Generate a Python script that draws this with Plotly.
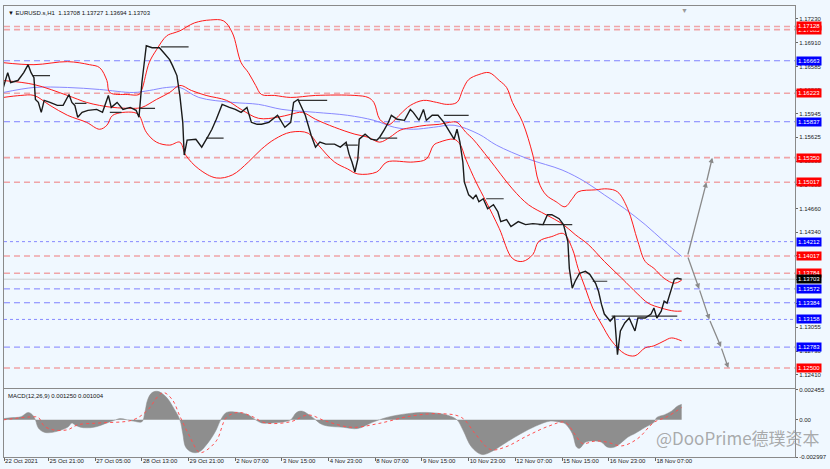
import plotly.graph_objects as go
from plotly.subplots import make_subplots

# ---------------- data (bar index, price) ----------------
close_idx = [1,4,6,11,15,18,20,22,23,25,27,29,33,38,42,46,48,50,52,55,59,65,69,73,75,79,83,88,92,94,96,99,103,108,111,115,117,120,122,124,125,127,133,137,141,144,147,151,156,160,164,168,171,175,178,183,189,194,198,200,203,205,208,212,215,218,222,228,232,236,238,240,242,244,245,249,253,257,259,262,265,267,271,276,280,282,286,289,291,295,299,303,306,310,312,314,316,317,320,323,325,327,330,333,337,340,342,346,349,354,359,364,371,374,377,382,385,388,389,391,393,396,400,403,407,409,411,413,417,420,422,424,427,430,434,436,441,445,447,449,452,454,456,459,461,463,466]
close_px = [1.16301,1.16502,1.16368,1.16395,1.16502,1.16610,1.16502,1.16435,1.16139,1.16099,1.15964,1.16126,1.16099,1.16058,1.16058,1.16206,1.16099,1.16058,1.15897,1.15964,1.15991,1.16004,1.15964,1.16193,1.16031,1.16099,1.16004,1.16031,1.15991,1.15897,1.16368,1.16866,1.16839,1.16839,1.16772,1.16678,1.16597,1.16462,1.16193,1.15829,1.15385,1.15587,1.15600,1.15493,1.15627,1.15735,1.15870,1.16072,1.16031,1.16004,1.15964,1.16031,1.15829,1.15802,1.15802,1.15829,1.15924,1.15762,1.15829,1.16099,1.16139,1.16058,1.15924,1.15654,1.15493,1.15560,1.15533,1.15533,1.15493,1.15560,1.15398,1.15291,1.15156,1.15331,1.15600,1.15668,1.15600,1.15587,1.15627,1.15722,1.15829,1.15924,1.15870,1.15856,1.16004,1.15964,1.15856,1.16004,1.15856,1.15924,1.15924,1.15829,1.15735,1.15600,1.15735,1.15560,1.15291,1.15021,1.14846,1.14793,1.14846,1.14752,1.14793,1.14658,1.14712,1.14617,1.14483,1.14510,1.14416,1.14483,1.14443,1.14456,1.14443,1.14577,1.14577,1.14523,1.14443,1.14214,1.13850,1.13581,1.13675,1.13783,1.13810,1.13769,1.13648,1.13540,1.13365,1.13231,1.13136,1.13204,1.12680,1.13002,1.13110,1.13177,1.13002,1.13177,1.13177,1.13231,1.13312,1.13177,1.13271,1.13406,1.13379,1.13581,1.13702,1.13716,1.13703]

bb_up_idx = [1,22,45,60,67,72,74,86,94,96,101,106,113,118,122,132,143,152,158,164,169,174,178,187,198,215,242,251,255,259,264,266,273,280,289,298,305,312,316,320,327,334,341,346,350,357,364,368,373,380,386,391,395,407,415,422,429,436,441,447,454,461,466]
bb_up_px = [1.16637,1.16610,1.16651,1.16610,1.16570,1.16395,1.16233,1.16206,1.16206,1.16274,1.16637,1.16812,1.17001,1.17041,1.17068,1.17176,1.17216,1.17203,1.17041,1.16637,1.16502,1.16328,1.16206,1.16193,1.16166,1.16193,1.16193,1.16166,1.16099,1.15870,1.15802,1.15802,1.15937,1.16058,1.16126,1.16099,1.16072,1.16099,1.16274,1.16408,1.16476,1.16502,1.16395,1.16301,1.16099,1.15829,1.15385,1.15021,1.14846,1.14752,1.14685,1.14793,1.14887,1.14914,1.14927,1.14887,1.14658,1.14214,1.13944,1.13850,1.13715,1.13648,1.13689]

bb_mid_idx = [1,22,45,58,67,76,90,96,106,115,122,130,140,154,164,176,189,198,206,215,228,242,251,259,266,273,282,291,300,307,312,318,323,334,350,361,373,384,393,402,413,425,436,443,452,461,466]
bb_mid_px = [1.16395,1.16341,1.16193,1.16099,1.16058,1.16031,1.16018,1.16031,1.16139,1.16233,1.16328,1.16260,1.16193,1.16126,1.16004,1.15883,1.15897,1.15937,1.15964,1.15870,1.15762,1.15668,1.15627,1.15560,1.15627,1.15722,1.15762,1.15789,1.15802,1.15829,1.15829,1.15695,1.15600,1.15331,1.14927,1.14712,1.14577,1.14456,1.14308,1.14173,1.13944,1.13715,1.13500,1.13379,1.13312,1.13271,1.13271]

bb_low_idx = [1,13,22,33,45,58,67,72,76,90,94,99,106,115,122,126,135,147,158,169,178,187,198,210,217,228,237,244,257,264,282,291,296,300,310,314,318,325,332,341,350,357,364,368,377,385,391,395,400,405,411,418,427,434,441,447,454,459,466]
bb_low_px = [1.16166,1.16193,1.16193,1.16058,1.15924,1.15829,1.15735,1.15789,1.15924,1.15964,1.15924,1.15695,1.15560,1.15520,1.15560,1.15385,1.15197,1.15075,1.15116,1.15291,1.15466,1.15600,1.15695,1.15681,1.15520,1.15291,1.15197,1.15129,1.15156,1.15291,1.15291,1.15331,1.15520,1.15560,1.15600,1.15533,1.15331,1.15021,1.14752,1.14389,1.13985,1.13944,1.14038,1.14214,1.14281,1.14321,1.14119,1.13850,1.13581,1.13312,1.13096,1.12867,1.12692,1.12665,1.12773,1.12800,1.12867,1.12907,1.12867]

ma_idx = [1,22,45,67,90,101,113,122,135,158,176,192,215,237,255,269,282,296,310,327,339,361,384,400,413,427,441,454,466]
ma_px = [1.16233,1.16301,1.16301,1.16274,1.16233,1.16260,1.16301,1.16301,1.16166,1.16099,1.16072,1.16004,1.15964,1.15924,1.15856,1.15762,1.15735,1.15762,1.15789,1.15668,1.15520,1.15331,1.15183,1.15021,1.14846,1.14658,1.14443,1.14214,1.14012]

seg_start = [21,50,74,94,109,140,203,235,259,303,332,368,405,418]
seg_end = [33,58,82,105,128,152,223,244,271,320,344,391,415,463]
seg_price = [1.16462,1.16085,1.15964,1.16018,1.16852,1.15614,1.16126,1.15520,1.15614,1.15924,1.14793,1.14443,1.13675,1.13204]

red_levels = [1.17085,1.17128,1.16223,1.15350,1.15017,1.14017,1.13784,1.12500]
blue_dash_levels = [1.16663,1.15837,1.13572,1.13384,1.12783]
blue_dot_levels = [1.14212,1.13158]
current_price = 1.13703

arrow_up_idx = [470,483,487]
arrow_up_px = [1.14017,1.15017,1.15350]
arrow_dn_idx = [470,478,485,493,498]
arrow_dn_px = [1.14017,1.13572,1.13158,1.12783,1.12500]

macd_idx = [1,6,13,18,21,23,25,29,35,45,48,50,54,63,72,78,81,90,96,98,100,103,107,113,117,122,124,126,130,135,141,147,150,154,162,169,174,178,185,194,198,202,206,213,220,234,244,254,264,278,291,305,312,316,322,329,335,346,356,366,376,383,386,391,394,396,400,405,411,415,420,425,429,434,441,447,449,454,459,463,466]
macd_val = [0.0001,0.00017,0.00025,0.0006,0.0004,0.0,-0.00066,-0.001,-0.001,-0.0006,-0.00025,-0.0004,-0.0006,-0.0006,-0.00025,0.0,0.0001,-0.0001,-0.00015,0.0006,0.00165,0.0022,0.0023,0.0018,0.0011,0.0,-0.0011,-0.0022,-0.0026,-0.0026,-0.0019,-0.0008,0.0,0.0006,0.0006,0.0004,0.0,-0.00025,-0.00025,-0.00015,0.0,0.0006,0.0007,0.0002,-0.0004,-0.0006,-0.0007,-0.0002,0.0002,0.0005,0.0006,0.0004,0.0,-0.0008,-0.0022,-0.0028,-0.0026,-0.0018,-0.0011,-0.0005,-0.0001,-0.0002,-0.0003,-0.0011,-0.0022,-0.0023,-0.0018,-0.0017,-0.0018,-0.0022,-0.0022,-0.0018,-0.0014,-0.0011,-0.0006,-0.0002,0.0002,0.0004,0.0007,0.0011,0.00125]
sig_idx = [1,22,25,29,35,45,52,67,90,100,107,111,117,122,129,135,138,147,154,162,171,181,198,210,222,240,258,280,300,315,325,335,345,360,375,386,393,398,407,415,425,436,447,456,466]
sig_val = [0.0,0.00025,0.0002,-0.0005,-0.0008,-0.0008,-0.0004,-0.00025,0.0,0.0008,0.0019,0.0022,0.0016,0.0003,-0.0014,-0.0026,-0.0026,-0.0017,0.0002,0.0006,0.0003,-0.00025,-0.00015,0.0004,-0.0001,-0.0006,-0.0003,0.0003,0.0005,0.0002,-0.0012,-0.0024,-0.0022,-0.0013,-0.0005,-0.0002,-0.0012,-0.0019,-0.0017,-0.0018,-0.0021,-0.0015,-0.0002,0.00025,0.001]

price_ticks = [1.17230,1.16910,1.16585,1.16265,1.15945,1.15625,1.15300,1.14980,1.14660,1.14340,1.14020,1.13700,1.13380,1.13055,1.12730,1.12410]
date_idx = [1.5,32,64,96,128,160,192,224,256,288,320,352,384,416,448]
date_labels = ["22 Oct 2021","25 Oct 21:00","27 Oct 05:00","28 Oct 13:00","29 Oct 21:00","2 Nov 07:00","3 Nov 15:00","4 Nov 23:00","8 Nov 07:00","9 Nov 15:00","10 Nov 23:00","12 Nov 07:00","15 Nov 15:00","16 Nov 23:00","18 Nov 07:00"]

# ---------------- figure ----------------
BG = "#f0f8ff"
FONT = "Liberation Sans"
fig = make_subplots(rows=2, cols=1, shared_xaxes=True, vertical_spacing=0.0)

fig.add_trace(go.Scatter(x=ma_idx, y=ma_px, mode="lines", line=dict(color="#8888ff", width=1, shape="spline"), hoverinfo="skip"), row=1, col=1)
for xs, ys in [(bb_up_idx, bb_up_px), (bb_mid_idx, bb_mid_px), (bb_low_idx, bb_low_px)]:
    fig.add_trace(go.Scatter(x=xs, y=ys, mode="lines", line=dict(color="#ff1a1a", width=1, shape="spline"), hoverinfo="skip"), row=1, col=1)

sx, sy = [], []
for a, b, p in zip(seg_start, seg_end, seg_price):
    sx += [a, b, None]
    sy += [p, p, None]
fig.add_trace(go.Scatter(x=sx, y=sy, mode="lines", line=dict(color="#333333", width=1.2), hoverinfo="skip"), row=1, col=1)

fig.add_trace(go.Scatter(x=close_idx, y=close_px, mode="lines", line=dict(color="#1a1a1a", width=1.4), hoverinfo="skip"), row=1, col=1)

fig.add_trace(go.Scatter(x=macd_idx, y=macd_val, mode="lines", fill="tozeroy", fillcolor="#8e8e8e",
                         line=dict(color="#8e8e8e", width=0.5, shape="spline"), hoverinfo="skip"), row=2, col=1)
fig.add_trace(go.Scatter(x=sig_idx, y=sig_val, mode="lines", line=dict(color="#ff5050", width=1, dash="dot", shape="spline"), hoverinfo="skip"), row=2, col=1)

# horizontal levels (after traces so the subplot is not empty)
for lv in red_levels:
    fig.add_hline(y=lv, line=dict(color="rgba(240,110,110,0.6)", width=1.6, dash="6px,4px"), layer="below", row=1, col=1)
for lv in blue_dash_levels:
    fig.add_hline(y=lv, line=dict(color="rgba(90,90,255,0.75)", width=1, dash="6px,4px"), layer="below", row=1, col=1)
for lv in blue_dot_levels:
    fig.add_hline(y=lv, line=dict(color="rgba(90,90,255,0.7)", width=1, dash="dot"), layer="below", row=1, col=1)
fig.add_hline(y=current_price, line=dict(color="#c8ccd0", width=1), layer="below", row=1, col=1)

# arrows
def add_arrow_path(xs, ys):
    for i in range(len(xs) - 1):
        fig.add_annotation(x=xs[i + 1], y=ys[i + 1], ax=xs[i], ay=ys[i], xref="x", yref="y", axref="x", ayref="y",
                           text="", showarrow=True, arrowhead=2, arrowsize=0.8, arrowwidth=1.3, arrowcolor="#8a8a8a", standoff=0)
add_arrow_path(arrow_up_idx, arrow_up_px)
add_arrow_path(arrow_dn_idx, arrow_dn_px)

# right-axis price boxes
def box(val, bg):
    fig.add_annotation(x=1, xref="paper", y=val, yref="y", xanchor="left", xshift=1, text=f"{val:.5f}",
                       showarrow=False, bgcolor=bg, font=dict(color="white", size=6, family=FONT), borderpad=1)
for lv in red_levels:
    box(lv, "#ff0000")
for lv in blue_dash_levels + blue_dot_levels:
    box(lv, "#0000ff")
box(current_price, "#000000")

# texts
fig.add_annotation(x=0, y=1, xref="paper", yref="paper", xanchor="left", yanchor="top", xshift=2, yshift=-2,
                   text="▼ EURUSD.s,H1  1.13708 1.13727 1.13694 1.13703", showarrow=False,
                   font=dict(size=6, color="#111", family=FONT))
fig.add_annotation(x=0, y=1, xref="paper", yref="y2 domain", xanchor="left", yanchor="top", xshift=2, yshift=-2,
                   text="MACD(12,26,9) 0.001250 0.001004", showarrow=False, font=dict(size=6, color="#111", family=FONT))
fig.add_annotation(x=468, y=1, xref="x", yref="paper", yanchor="top", yshift=1, text="▼", showarrow=False,
                   font=dict(size=7, color="#9a9a9a"))
fig.add_annotation(x=0.928, y=0.044, xref="paper", yref="paper", xanchor="center", yanchor="middle",
                   text="@DooPrime德璞资本", showarrow=False,
                   font=dict(size=17, color="rgba(150,150,150,0.8)", family="Noto Sans CJK SC"))

axis_common = dict(showgrid=False, zeroline=False, showline=True, mirror=True, linecolor="#8a8a8a", linewidth=1)
fig.update_layout(
    width=830, height=469, margin=dict(l=3, r=28, t=3, b=12),
    paper_bgcolor=BG, plot_bgcolor=BG, showlegend=False,
    font=dict(family=FONT, size=6, color="#222"),
    xaxis=dict(range=[1.46, 543.7], showticklabels=False, ticks="", **axis_common),
    xaxis2=dict(range=[1.46, 543.7], tickvals=date_idx, ticktext=date_labels, ticks="outside", ticklen=3,
                tickcolor="#666", ticklabelposition="outside right", ticklabelstandoff=-2,
                tickfont=dict(size=6, color="#222"), **axis_common),
    yaxis=dict(domain=[0.154, 1], range=[1.12235, 1.17405], side="right", tickvals=price_ticks,
               ticktext=[f"{v:.5f}" for v in price_ticks], ticks="outside", ticklen=2, tickcolor="#666",
               tickfont=dict(size=6, color="#222"), **axis_common),
    yaxis2=dict(domain=[0, 0.1498], range=[-0.002997, 0.002455], side="right",
                tickvals=[0.002455, 0.0, -0.002997], ticktext=["0.002455", "0.00", "-0.002997"],
                ticks="outside", ticklen=2, tickcolor="#666", tickfont=dict(size=6, color="#222"), **axis_common),
)

fig.write_html("out.html", config={"displayModeBar": False},
               post_script="document.body.style.margin='0';document.body.style.overflow='hidden';")
